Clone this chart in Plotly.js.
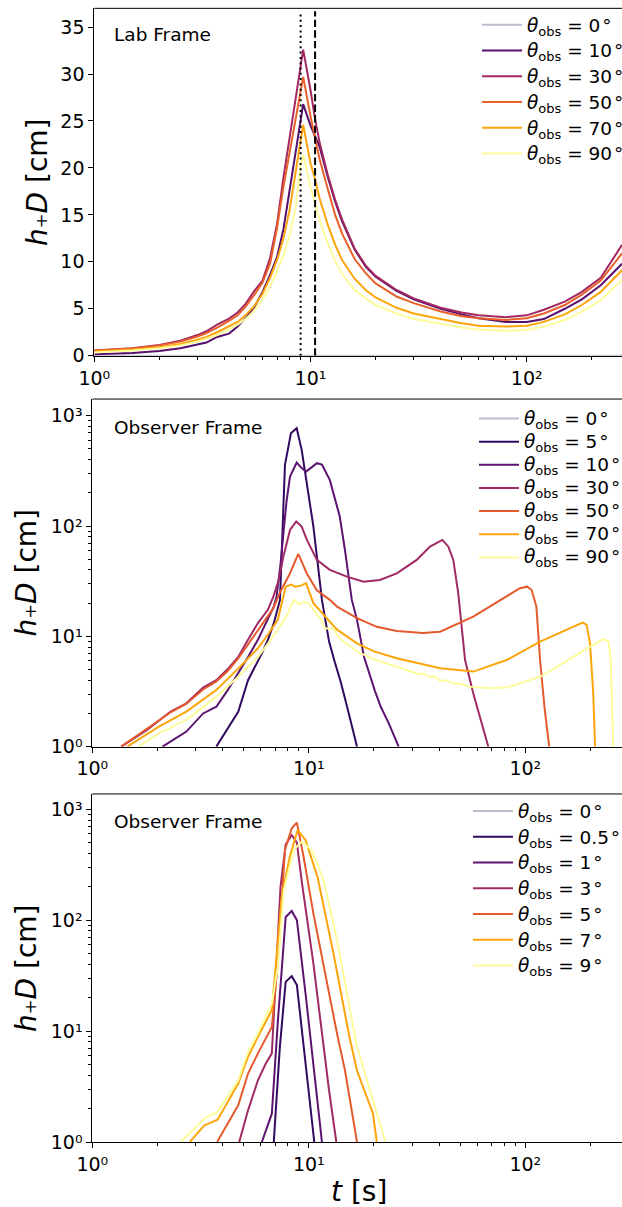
<!DOCTYPE html>
<html>
<head>
<meta charset="utf-8">
<script src="https://cdn.plot.ly/plotly-3.0.1.min.js"></script>
<style>
  html, body { margin: 0; padding: 0; overflow: hidden; background: #fff; }
  #chart { width: 680px; height: 1207px; }
</style>
</head>
<body>
<div id="chart"></div>
<script>
// ---------- Panel 1: lab frame, h+D [cm] vs t [s] ----------
const labT  = [1, 1.5, 2, 2.5, 3, 3.3, 3.7, 4.2, 4.6, 5, 5.5, 6, 6.5, 7, 7.5, 8, 8.5, 9, 9.25, 10,
               10.5, 11, 12, 13, 14, 16, 18, 20, 25, 30, 40, 50, 60, 80, 100, 120, 150, 180, 220, 276];
const lab0  = [0, 0, 0, 0, 0, 0, 0, 0, 0, 0, 0, 0, 0, 0, 0, 0, 0, 0, 0, 0,
               0, 0, 0, 0, 0, 0, 0, 0, 0, 0, 0, 0, 0, 0, 0, 0, 0, 0, 0, 0];
const lab10 = [0.15, 0.3, 0.5, 0.8, 1.2, 1.4, 2.0, 2.35, 3.1, 4.0, 5.2, 6.8, 8.6, 10.5, 13.5, 17.5, 21.5, 25.3, 26.8, 24.5,
               23.3, 22.3, 19.1, 16.4, 14.3, 11.3, 9.5, 8.4, 6.9, 6.0, 5.0, 4.4, 4.0, 3.6, 3.6, 3.9, 5.0, 6.0, 7.5, 9.8];
const lab30 = [0.55, 0.8, 1.15, 1.6, 2.2, 2.6, 3.3, 3.95, 4.6, 5.5, 6.9, 8.0, 10.4, 14.0, 19.0, 23.2, 27.0, 30.8, 32.6, 28.3,
               25.2, 22.8, 19.3, 16.6, 14.5, 11.4, 9.6, 8.5, 7.0, 6.1, 5.1, 4.6, 4.3, 4.1, 4.3, 4.9, 5.75, 6.8, 8.3, 11.8];
const lab50 = [0.55, 0.78, 1.1, 1.5, 2.05, 2.4, 3.0, 3.7, 4.3, 5.2, 6.5, 7.8, 9.8, 13.6, 18.0, 21.7, 25.1, 28.4, 29.7, 25.5,
               23.0, 21.0, 17.8, 15.0, 13.0, 10.3, 8.8, 7.7, 6.3, 5.6, 4.7, 4.2, 4.0, 3.8, 4.0, 4.5, 5.4, 6.5, 8.0, 10.9];
const lab70 = [0.45, 0.65, 0.9, 1.25, 1.7, 2.0, 2.5, 3.1, 3.6, 4.3, 5.3, 6.6, 8.3, 10.2, 12.5, 15.5, 19.5, 23.1, 24.6, 20.5,
               18.8, 16.8, 14.0, 11.8, 10.2, 8.2, 7.0, 6.2, 5.1, 4.5, 3.9, 3.45, 3.2, 3.1, 3.2, 3.6, 4.4, 5.4, 6.8, 9.1];
const lab90 = [0.35, 0.55, 0.8, 1.1, 1.5, 1.8, 2.2, 2.8, 3.3, 3.9, 4.8, 6.0, 7.4, 9.0, 10.7, 12.8, 15.5, 20.3, 21.4, 18.0,
               16.2, 14.5, 12.0, 10.1, 8.7, 7.0, 6.1, 5.4, 4.5, 3.9, 3.4, 3.0, 2.8, 2.65, 2.75, 3.1, 3.8, 4.7, 5.9, 8.05];
const labAngles = ['0', '10', '30', '50', '70', '90'];
const labMarkers = [9.0, 10.5];          // dotted, dashed reference times [s]
const labMarkerTop = 36.7;

// ---------- Panel 2: observer frame, wide angles ----------
const obsT0 = [1, 300];
const obsH0 = [0, 0];
const obsT5 = [3.74, 4.2, 4.72, 5.24, 5.6, 6.07, 6.5, 6.89, 7.36, 7.55, 7.76, 8.27, 8.79, 9.27, 9.6, 10.5, 11.5, 12.4, 13.2, 14.1, 15.3, 16.7];
const obsH5 = [1.0, 1.45, 2.07, 4.0, 5.2, 7.0, 9.5, 13.1, 21.4, 90, 358, 694, 770, 490, 311, 99, 21.4, 9.0, 5.8, 3.76, 2.0, 1.0];
const obsT10 = [2.11, 2.72, 3.25, 3.74, 4.2, 4.72, 5.24, 5.82, 6.4, 6.89, 7.1, 7.4, 7.66, 7.9, 8.19, 8.79, 9.2, 9.71, 10.3, 10.9,
                11.5, 12.5, 13.9, 14.7, 15.8, 16.7, 18.0, 19.0, 20.2, 21.5, 23.5, 26.0];
const obsH10 = [1.0, 1.37, 2.0, 2.3, 3.2, 4.6, 6.5, 9.3, 13.5, 18.6, 23, 45, 92, 170, 281, 376, 340, 311, 340, 371,
                360, 262, 122, 60, 21.4, 14.1, 6.5, 4.6, 3.2, 2.3, 1.6, 1.0];
const obsT30 = [1.36, 1.79, 2.3, 2.72, 3.25, 3.74, 4.2, 4.72, 5.24, 5.82, 6.47, 6.86, 7.25, 7.63, 8.19, 8.75, 9.27, 9.8,
                10.9, 12.5, 15.0, 17.9, 21.3, 25.5, 31.5, 36.3, 41.4, 44.1, 46.5, 49, 52.7, 57.5, 62, 67.5];
const obsH30 = [1.0, 1.42, 2.08, 2.47, 3.43, 4.0, 5.0, 6.5, 9.3, 13.2, 17.4, 22.9, 32, 52.8, 92, 110, 98.8, 74.8,
                49.3, 40, 34.8, 31.3, 32.4, 37.2, 49.3, 65, 74.8, 65, 49.3, 24.6, 6.1, 3.05, 1.8, 1.0];
const obsT50 = [1.36, 1.79, 2.3, 2.72, 3.25, 3.74, 4.2, 4.72, 5.24, 5.82, 6.47, 6.86, 7.36, 8.19, 8.94, 9.78, 10.87, 12.5,
                13.5, 16.7, 20.6, 25.5, 33.6, 40.4, 57.5, 76.4, 94.5, 102, 107, 112.5, 117, 123, 129];
const obsH50 = [1.0, 1.45, 2.05, 2.45, 3.3, 3.9, 4.8, 6.3, 8.5, 11.5, 15.5, 18.0, 25.0, 37.3, 55.8, 37.3, 26.3, 21.4,
                18.6, 14.6, 12.2, 11.2, 10.7, 11.0, 15.1, 21.4, 27.3, 28.2, 26.3, 18.6, 6.1, 2.15, 1.0];
const obsT70 = [1.45, 2.03, 2.72, 3.25, 3.74, 4.72, 5.82, 6.5, 7.19, 7.82, 8.3, 8.63, 9.2, 9.71, 10.5, 11.0, 11.9, 13.5,
                16.7, 20, 25.5, 40.4, 57.5, 82, 117, 167, 184, 192, 199, 206, 210];
const obsH70 = [1.0, 1.52, 2.08, 2.7, 3.27, 5.1, 7.8, 10.5, 14.1, 28.2, 29.5, 28.2, 28.8, 30.4, 20, 18.0, 15.1, 11.5,
                8.65, 7.3, 6.33, 5.14, 4.79, 6.1, 8.95, 12.2, 13.3, 12.7, 8.65, 3.05, 1.0];
const obsT90 = [1.64, 2.03, 2.72, 3.74, 4.72, 5.82, 7.19, 8.0, 8.51, 9.0, 9.5, 10.0, 10.5, 11.4, 11.9, 13.0, 13.5, 14.1,
                16.7, 20, 25.5, 30, 32, 34, 36, 38, 40.4, 43, 46, 50, 55, 68.7, 83.2, 117, 167, 210, 229, 242, 248, 255];
const obsH90 = [1.0, 1.32, 1.75, 2.84, 4.3, 6.5, 11.4, 16, 21.4, 19.5, 20.5, 20.0, 17.4, 14.1, 11.8, 11.8, 10.3, 9.3,
                7.26, 6.2, 5.3, 4.8, 4.55, 4.6, 4.3, 4.35, 3.95, 4.0, 3.75, 3.7, 3.5, 3.38, 3.45, 4.3, 6.55, 8.65, 9.47, 8.95, 6.1, 1.0];
const obsAngles = ['0', '5', '10', '30', '50', '70', '90'];

// ---------- Panel 3: observer frame, small angles ----------
const nearT0 = [1, 300];
const nearH0 = [0, 0];
const nearT05 = [6.89, 7.35, 7.82, 8.34, 8.81, 9.66, 10.6];
const nearH05 = [1.0, 7.2, 27.8, 31.3, 26, 5.1, 1.0];
const nearT1 = [6.07, 6.75, 7.19, 7.82, 8.34, 8.81, 9.66, 10.5, 11.5];
const nearH1 = [1.0, 1.8, 12, 107, 121, 100, 21.8, 5.1, 1.0];
const nearT3 = [4.77, 5.24, 5.82, 6.33, 6.75, 7.04, 7.4, 7.82, 8.34, 8.81, 9.26, 10.5, 11.7, 12.4, 13.4];
const nearH3 = [1.0, 1.93, 3.6, 5.1, 6.3, 28.8, 200, 480, 586, 500, 230, 40.7, 7.2, 2.93, 1.0];
const nearT5 = [3.77, 4.72, 5.24, 5.82, 6.75, 7.19, 7.76, 8.34, 8.81, 9.46, 10.5, 11.9, 13.5, 14.7, 16.7];
const nearH5 = [1.0, 2.14, 4.14, 6.3, 10.9, 40.7, 430, 674, 757, 373, 115, 33, 9.5, 4.4, 1.0];
const nearT7 = [2.82, 3.29, 3.79, 4.72, 5.24, 5.82, 6.75, 7.5, 8.17, 8.88, 9.66, 10.97, 13.0, 15.4, 16.7, 19.8, 20.6];
const nearH7 = [1.0, 1.41, 1.59, 3.37, 5.85, 8.9, 15.4, 163, 373, 649, 527, 246, 50, 8.9, 4.4, 1.8, 1.0];
const nearT9 = [2.56, 3.29, 3.79, 4.72, 5.24, 5.82, 6.75, 7.19, 7.66, 8.51, 9.26, 10.3, 11.7, 13.5, 16.7, 19.8, 22.6];
const nearH9 = [1.0, 1.63, 1.87, 3.6, 6.5, 9.5, 17.7, 38, 187, 430, 510, 430, 230, 66, 7.2, 2.38, 1.0];
const nearAngles = ['0', '0.5', '1', '3', '5', '7', '9'];

// ---------- Axis tick labels and titles ----------
const decadeVals = [1, 10, 100, 1000];
const decadeText = ['10⁰', '10¹', '10²', '10³'];
const labYTicks = [0, 5, 10, 15, 20, 25, 30, 35];
const yTitle = '<i>h</i>₊<i>D</i> [cm]';
const xTitle = '<i>t</i> [s]';

// ---------- Styling ----------
const FONT = 'DejaVu Sans';
const FIG_W = 680, FIG_H = 1207;
const zeroColor = '#bcbccc';
const labColors  = [zeroColor, '#56106e', '#a2285f', '#e8602a', '#fca50a', '#fcfc9c'];
const obsColors  = [zeroColor, '#330a5f', '#5c1470', '#a02a63', '#e45a2e', '#fca50a', '#fcfc9c'];

// legend entry: theta_obs = angle (subscript lowered with a baseline shift)
function thetaLabel(a) {
  return '<span style="font-size:18.5px"><i>θ</i></span>' +
         '<span style="font-size:13px;baseline-shift:-4px">obs</span>' +
         '<span style="font-size:18.5px">\u00a0=\u00a0' + a + '\u200a°</span>';
}

function series(x, y, name, color, xa, ya, legend) {
  return {
    type: 'scatter', mode: 'lines', x: x, y: y, name: name,
    line: { color: color, width: 2 },
    xaxis: xa, yaxis: ya, legend: legend, hoverinfo: 'skip'
  };
}

const traces = [];
const labSeries = [lab0, lab10, lab30, lab50, lab70, lab90];
labSeries.forEach((h, i) => traces.push(series(labT, h, thetaLabel(labAngles[i]), labColors[i], 'x', 'y', 'legend')));

const obsSeries = [[obsT0, obsH0], [obsT5, obsH5], [obsT10, obsH10], [obsT30, obsH30],
                   [obsT50, obsH50], [obsT70, obsH70], [obsT90, obsH90]];
obsSeries.forEach((s, i) => traces.push(series(s[0], s[1], thetaLabel(obsAngles[i]), obsColors[i], 'x2', 'y2', 'legend2')));

const nearSeries = [[nearT0, nearH0], [nearT05, nearH05], [nearT1, nearH1], [nearT3, nearH3],
                    [nearT5, nearH5], [nearT7, nearH7], [nearT9, nearH9]];
nearSeries.forEach((s, i) => traces.push(series(s[0], s[1], thetaLabel(nearAngles[i]), obsColors[i], 'x3', 'y3', 'legend3')));

const tickFont = { family: FONT, size: 19, color: '#000' };
const minorTicks = { dtick: 'D1', ticks: 'outside', ticklen: 3, tickwidth: 1, tickcolor: '#000', showgrid: false };

function logX(domain, range, anchor) {
  return {
    type: 'log', domain: domain, range: range, anchor: anchor,
    showline: true, linecolor: '#000', linewidth: 1,
    ticks: 'outside', ticklen: 5, tickwidth: 1, tickcolor: '#000',
    tickmode: 'array', tickvals: decadeVals.slice(0, 3), ticktext: decadeText.slice(0, 3),
    tickfont: tickFont, showgrid: false, zeroline: false, minor: minorTicks
  };
}

function logY(domain, range, anchor) {
  return {
    type: 'log', domain: domain, range: range, anchor: anchor,
    showline: true, linecolor: '#000', linewidth: 1,
    ticks: 'outside', ticklen: 5, tickwidth: 1, tickcolor: '#000',
    tickmode: 'array', tickvals: decadeVals, ticktext: decadeText,
    tickfont: tickFont, showgrid: false, zeroline: false, minor: minorTicks
  };
}

function topSpine(xd, yd) {
  return { type: 'line', xref: xd, yref: yd, x0: 0, x1: 1, y0: 1, y1: 1, line: { color: '#000', width: 1 } };
}

function legendBox(x, y, size) {
  return {
    x: x, y: y, xanchor: 'left', yanchor: 'top', xref: 'paper', yref: 'paper',
    bgcolor: 'rgba(0,0,0,0)', borderwidth: 0, itemwidth: 40,
    font: { family: FONT, size: size, color: '#000' }
  };
}

function textAt(text, px, py, size, opts) {
  return Object.assign({
    text: text, xref: 'paper', yref: 'paper', x: px / FIG_W, y: 1 - py / FIG_H,
    xanchor: 'center', yanchor: 'middle', showarrow: false,
    font: { family: FONT, size: size, color: '#000' }
  }, opts || {});
}

const layout = {
  width: FIG_W, height: FIG_H,
  margin: { l: 0, r: 0, t: 0, b: 0 },
  paper_bgcolor: '#fff', plot_bgcolor: '#fff',
  font: { family: FONT, color: '#000' },
  showlegend: true,
  xaxis:  logX([0.13868, 0.91618], [0, 2.4454], 'y'),
  yaxis: {
    domain: [0.7053, 0.9931], range: [0, 37], anchor: 'x',
    showline: true, linecolor: '#000', linewidth: 1,
    ticks: 'outside', ticklen: 5, tickwidth: 1, tickcolor: '#000',
    tickmode: 'array', tickvals: labYTicks,
    tickfont: tickFont, showgrid: false, zeroline: false
  },
  xaxis2: logX([0.13574, 0.91618], [0, 2.4513], 'y2'),
  yaxis2: logY([0.3814, 0.6694], [0, 3.151], 'x2'),
  xaxis3: logX([0.13574, 0.91618], [0, 2.4513], 'y3'),
  yaxis3: logY([0.05385, 0.3422], [0, 3.138], 'x3'),
  legend:  legendBox(0.7015, 0.9943, 17.5),
  legend2: legendBox(0.6971, 0.6670, 15.5),
  legend3: legendBox(0.6882, 0.3429, 17.5),
  shapes: [
    topSpine('x domain', 'y domain'),
    topSpine('x2 domain', 'y2 domain'),
    topSpine('x3 domain', 'y3 domain'),
    { type: 'line', xref: 'x', yref: 'y', x0: labMarkers[0], x1: labMarkers[0], y0: 0, y1: labMarkerTop,
      line: { color: '#000', width: 2, dash: '2px,3.3px' } },
    { type: 'line', xref: 'x', yref: 'y', x0: labMarkers[1], x1: labMarkers[1], y0: 0, y1: labMarkerTop,
      line: { color: '#000', width: 2, dash: '7.4px,3.2px' } }
  ],
  annotations: [
    textAt('Lab Frame', 111.5, 35, 18.5, { xanchor: 'left' }),
    textAt('Observer Frame', 111.5, 427.3, 18.5, { xanchor: 'left' }),
    textAt('Observer Frame', 111.5, 821.7, 18.5, { xanchor: 'left' }),
    textAt(yTitle, 38, 182, 28, { textangle: -90 }),
    textAt(yTitle, 26, 572.5, 28, { textangle: -90 }),
    textAt(yTitle, 26, 968, 28, { textangle: -90 }),
    textAt(xTitle, 359, 1191.7, 28)
  ]
};

Plotly.newPlot('chart', traces, layout, { staticPlot: true, displayModeBar: false });
</script>
</body>
</html>
